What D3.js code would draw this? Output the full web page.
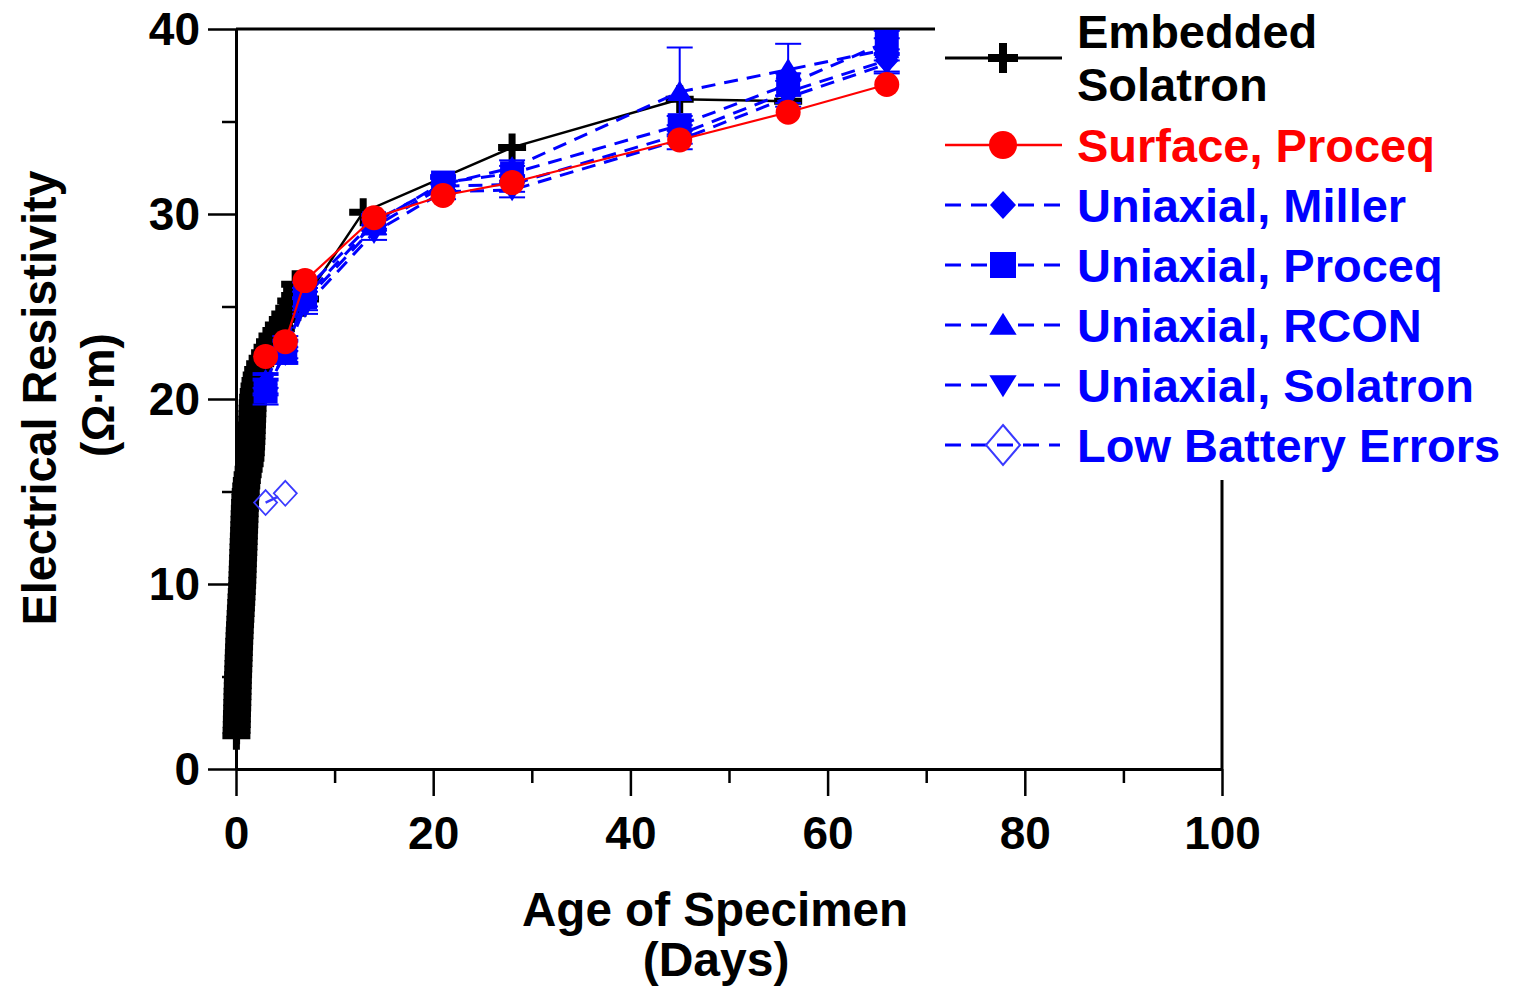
<!DOCTYPE html>
<html><head><meta charset="utf-8">
<script src="https://cdn.jsdelivr.net/npm/d3@7"></script>
<style>body{margin:0;background:#fff}svg{display:block}</style>
</head><body>
<svg id="c" width="1514" height="988"></svg>
<script>
// ---------- data ----------
const xTickValues = [0, 20, 40, 60, 80, 100];
const xMinorTicks = [10, 30, 50, 70, 90];
const yTickValues = [0, 10, 20, 30, 40];
const yMinorTicks = [5, 15, 25, 35];
const xTitle = ["Age of Specimen", "(Days)"];
const yTitle = ["Electrical Resistivity", "(Ω·m)"];
const legendLabels = [["Embedded", "Solatron"], ["Surface, Proceq"], ["Uniaxial, Miller"], ["Uniaxial, Proceq"], ["Uniaxial, RCON"], ["Uniaxial, Solatron"], ["Low Battery Errors"]];

// Embedded Solatron: dense early readings [day, value]
const embeddedEarly = [
 [0.04,1.8],[0.06,2.1],[0.08,2.4],[0.09,2.7],[0.10,3.0],[0.12,3.3],[0.13,3.6],[0.15,3.9],[0.16,4.2],[0.18,4.5],
 [0.19,4.8],[0.21,5.1],[0.23,5.4],[0.25,5.7],[0.27,6.0],[0.29,6.3],[0.31,6.6],[0.33,6.9],[0.36,7.2],[0.38,7.5],
 [0.41,7.8],[0.44,8.1],[0.47,8.4],[0.50,8.7],[0.53,9.0],[0.56,9.3],[0.59,9.6],[0.62,9.9],[0.64,10.2],[0.66,10.5],
 [0.68,10.8],[0.70,11.1],[0.72,11.4],[0.74,11.7],[0.76,12.0],[0.78,12.3],[0.80,12.6],[0.82,12.9],[0.84,13.2],[0.86,13.5],
 [0.88,13.8],[0.90,14.1],[0.92,14.4],[0.95,14.7],[0.99,15.0],[1.04,15.3],[1.10,15.6],[1.18,15.9],[1.28,16.2],[1.38,16.5],
 [1.46,16.8],[1.50,17.1],[1.53,17.4],[1.56,17.7],[1.58,18.0],[1.60,18.3],[1.62,18.6],[1.64,18.9],[1.66,19.2],[1.68,19.5],
 [1.70,19.8],[1.74,20.1],[1.80,20.4],[1.88,20.7],[1.98,21.0],[2.10,21.3],[2.25,21.6],[2.45,21.9],[2.70,22.2],[2.95,22.5],
 [3.20,22.8],[3.45,23.1],[3.70,23.4],[3.90,23.2],[4.10,23.7],[4.35,24.0],[4.55,23.8],[4.75,24.3],[5.00,24.6],[5.20,24.4],
 [5.40,24.9],[5.60,25.3],[5.80,25.0],[6.00,25.6],[6.20,25.9],[6.00,26.2],[6.40,25.5],[6.60,25.8],[6.80,25.2],[7.00,25.4]
];
const embeddedLate = [[12.9,30.1],[28,33.6],[45,36.2],[56,36.1]];

const testDays = [3, 5, 7, 14, 21, 28, 45, 56, 66];
const surfaceProceq = [22.3, 23.1, 26.4, 29.8, 31.0, 31.7, 34.0, 35.5, 37.0];
const uniMiller = [20.8, 22.7, 25.3, 29.3, 31.5, 31.6, 34.3, 36.6, 38.3];
const uniMillerErr = [0.5, 0.5, 0.5, 0.4, 0.4, 0.4, 0.5, 0.6, 0.6];
const uniProceq = [20.4, 22.5, 25.5, 29.5, 31.7, 32.2, 34.8, 37.0, 39.3];
const uniProceqErr = [0.7, 0.6, 0.5, 0.4, 0.4, 0.4, 0.5, 0.6, 0.6];
const uniRcon = [21.0, 23.0, 25.9, 29.6, 31.6, 32.5, 36.6, 37.8, 38.9];
const uniRconErr = [0.4, 0.4, 0.4, 0.4, 0.4, 0.4, 2.4, 1.4, 0.6];
const uniSolatron = [20.6, 22.4, 25.0, 29.0, 31.2, 31.3, 34.0, 36.3, 38.1];
const uniSolatronErr = [0.4, 0.4, 0.4, 0.4, 0.4, 0.4, 0.5, 0.5, 0.5];
const lowBatteryDays = [3, 5];
const lowBattery = [14.4, 14.9];

// ---------- drawing ----------
const svg = d3.select("#c");
const x = d3.scaleLinear().domain([0, 100]).range([236, 1222]);
const y = d3.scaleLinear().domain([0, 40]).range([769, 29]);
const BLUE = "#0000ff", RED = "#ff0000", LB = "#3a3aff";
const sansBold = "'Liberation Sans', Arial, sans-serif";

function marker(type, s) {
  switch (type) {
    case "cross": return `M${-s},0H${s}M0,${-s}V${s}`;
    case "diamond": return `M0,${-s*1.08}L${s},0L0,${s*1.08}L${-s},0Z`;
    case "square": return `M${-s},${-s}H${s}V${s}H${-s}Z`;
    case "up": return `M0,${-s*0.95}L${s*1.05},${s*0.75}H${-s*1.05}Z`;
    case "down": return `M0,${s*0.95}L${s*1.05},${-s*0.75}H${-s*1.05}Z`;
  }
}

// frame
svg.append("line").attr("x1", 236).attr("x2", 1222).attr("y1", 29).attr("y2", 29).attr("stroke", "#000").attr("stroke-width", 3);
svg.append("line").attr("x1", 1222).attr("x2", 1222).attr("y1", 29).attr("y2", 769).attr("stroke", "#000").attr("stroke-width", 3);

// x axis
const gx = svg.append("g").attr("transform", "translate(0,769)")
  .call(d3.axisBottom(x).tickValues(xTickValues).tickSize(27).tickPadding(20).tickSizeOuter(0));
gx.select(".domain").attr("stroke-width", 3);
gx.selectAll(".tick line").attr("stroke-width", 2.5);
gx.selectAll(".tick text").attr("font-family", sansBold).attr("font-weight", "bold")
  .attr("font-size", 46).attr("fill", "#000");
const gxm = svg.append("g").attr("transform", "translate(0,769)")
  .call(d3.axisBottom(x).tickValues(xMinorTicks).tickSize(14).tickFormat(""));
gxm.select(".domain").remove();
gxm.selectAll(".tick line").attr("stroke-width", 2.5);

// y axis
const gy = svg.append("g").attr("transform", "translate(236,0)")
  .call(d3.axisLeft(y).tickValues(yTickValues).tickSize(28).tickPadding(8).tickSizeOuter(0));
gy.select(".domain").attr("stroke-width", 3);
gy.selectAll(".tick line").attr("stroke-width", 2.5);
gy.selectAll(".tick text").attr("font-family", sansBold).attr("font-weight", "bold")
  .attr("font-size", 46).attr("fill", "#000").attr("dy", "0.34em");
const gym = svg.append("g").attr("transform", "translate(236,0)")
  .call(d3.axisLeft(y).tickValues(yMinorTicks).tickSize(14).tickFormat(""));
gym.select(".domain").remove();
gym.selectAll(".tick line").attr("stroke-width", 2.5);

// axis titles
svg.append("text").attr("x", 715).attr("y", 926).attr("text-anchor", "middle")
  .attr("font-family", sansBold).attr("font-weight", "bold").attr("font-size", 48).attr("textLength", 386).attr("lengthAdjust", "spacingAndGlyphs").text(xTitle[0]);
svg.append("text").attr("x", 716).attr("y", 976).attr("text-anchor", "middle")
  .attr("font-family", sansBold).attr("font-weight", "bold").attr("font-size", 48).text(xTitle[1]);
svg.append("text").attr("transform", "translate(56,398) rotate(-90)").attr("text-anchor", "middle")
  .attr("font-family", sansBold).attr("font-weight", "bold").attr("font-size", 48).attr("textLength", 455).attr("lengthAdjust", "spacingAndGlyphs").text(yTitle[0]);
svg.append("text").attr("transform", "translate(114,395) rotate(-90)").attr("text-anchor", "middle")
  .attr("font-family", sansBold).attr("font-weight", "bold").attr("font-size", 46).text(yTitle[1]);

const plot = svg.append("g");

// Embedded Solatron
const embAll = embeddedEarly.concat(embeddedLate);
plot.append("path").datum(embAll).attr("fill", "none").attr("stroke", "#000").attr("stroke-width", 2.5)
  .attr("d", d3.line().x(d => x(d[0])).y(d => y(d[1])));
plot.selectAll(".emb").data(embAll).join("path").attr("class", "emb")
  .attr("transform", d => `translate(${x(d[0])},${y(d[1])})`)
  .attr("d", marker("cross", 14)).attr("stroke", "#000").attr("stroke-width", 7).attr("fill", "none");

// Uniaxial series
const uniSeries = [
  {vals: uniSolatron, err: uniSolatronErr, shape: "down"},
  {vals: uniMiller, err: uniMillerErr, shape: "diamond"},
  {vals: uniRcon, err: uniRconErr, shape: "up"},
  {vals: uniProceq, err: uniProceqErr, shape: "square"}
];
const lineGen = d3.line().x(d => x(d[0])).y(d => y(d[1]));
uniSeries.forEach(s => {
  const pts = testDays.map((d, i) => [d, s.vals[i], s.err[i]]);
  plot.append("path").datum(pts).attr("fill", "none").attr("stroke", BLUE).attr("stroke-width", 3)
    .attr("stroke-dasharray", "14,9").attr("d", lineGen);
  const eb = plot.append("g").attr("stroke", BLUE).attr("stroke-width", 2);
  pts.forEach(p => {
    const cx = x(p[0]), y1 = y(p[1] - p[2]), y2 = y(p[1] + p[2]);
    eb.append("line").attr("x1", cx).attr("x2", cx).attr("y1", y1).attr("y2", y2);
    eb.append("line").attr("x1", cx - 13).attr("x2", cx + 13).attr("y1", y1).attr("y2", y1);
    eb.append("line").attr("x1", cx - 13).attr("x2", cx + 13).attr("y1", y2).attr("y2", y2);
  });
  plot.append("g").selectAll("path").data(pts).join("path")
    .attr("transform", d => `translate(${x(d[0])},${y(d[1])})`)
    .attr("d", marker(s.shape, 12)).attr("fill", BLUE);
});

// Low battery errors
const lbPts = lowBatteryDays.map((d, i) => [d, lowBattery[i]]);
plot.append("g").selectAll("path").data(lbPts).join("path")
  .attr("transform", d => `translate(${x(d[0])},${y(d[1])})`)
  .attr("d", marker("diamond", 11.5)).attr("fill", "none").attr("stroke", LB).attr("stroke-width", 1.8);
plot.append("path").datum(lbPts).attr("fill", "none").attr("stroke", LB).attr("stroke-width", 2.5)
  .attr("stroke-dasharray", "14,9").attr("d", lineGen);

// Surface Proceq
const spPts = testDays.map((d, i) => [d, surfaceProceq[i]]);
plot.append("path").datum(spPts).attr("fill", "none").attr("stroke", RED).attr("stroke-width", 2.2).attr("d", lineGen);
plot.append("g").selectAll("circle").data(spPts).join("circle")
  .attr("cx", d => x(d[0])).attr("cy", d => y(d[1])).attr("r", 12.5).attr("fill", RED);

// ---------- legend ----------
const lg = svg.append("g");
lg.append("rect").attr("x", 935).attr("y", 0).attr("width", 579).attr("height", 480).attr("fill", "#fff");
const rowsY = [58, 145, 205, 265, 325, 385, 445];
const legColors = ["#000", RED, BLUE, BLUE, BLUE, BLUE, BLUE];
const legShapes = ["cross", "circle", "diamond", "square", "up", "down", "open"];
legendLabels.forEach((lab, i) => {
  const cy = rowsY[i], col = legColors[i], sh = legShapes[i];
  if (i < 2) {
    lg.append("line").attr("x1", 945).attr("x2", 1062).attr("y1", cy).attr("y2", cy).attr("stroke", col).attr("stroke-width", i === 0 ? 3 : 2.5);
  } else if (sh === "open") {
    lg.append("line").attr("x1", 945).attr("x2", 1060).attr("y1", cy).attr("y2", cy).attr("stroke", BLUE).attr("stroke-width", 3).attr("stroke-dasharray", "16,10");
  } else {
    lg.append("line").attr("x1", 945).attr("x2", 990).attr("y1", cy).attr("y2", cy).attr("stroke", BLUE).attr("stroke-width", 3).attr("stroke-dasharray", "16,10");
    lg.append("line").attr("x1", 1018).attr("x2", 1060).attr("y1", cy).attr("y2", cy).attr("stroke", BLUE).attr("stroke-width", 3).attr("stroke-dasharray", "16,10");
  }
  const g = lg.append("g").attr("transform", `translate(1003,${cy})`);
  if (sh === "cross") g.append("path").attr("d", marker("cross", 15)).attr("stroke", "#000").attr("stroke-width", 8);
  else if (sh === "circle") g.append("circle").attr("r", 14).attr("fill", RED);
  else if (sh === "open") g.append("path").attr("d", `M0,-20L17,0L0,20L-17,0Z`).attr("fill", "none").attr("stroke", LB).attr("stroke-width", 2);
  else g.append("path").attr("d", marker(sh, 13)).attr("fill", BLUE);
  if (lab.length === 2) {
    lg.append("text").attr("x", 1077).attr("y", 48).attr("font-family", sansBold).attr("font-weight", "bold").attr("font-size", 47).attr("fill", col).text(lab[0]);
    lg.append("text").attr("x", 1077).attr("y", 101).attr("font-family", sansBold).attr("font-weight", "bold").attr("font-size", 47).attr("fill", col).text(lab[1]);
  } else {
    lg.append("text").attr("x", 1077).attr("y", cy + 17).attr("font-family", sansBold).attr("font-weight", "bold").attr("font-size", 47).attr("fill", col).text(lab[0]);
  }
});
</script>
</body></html>
